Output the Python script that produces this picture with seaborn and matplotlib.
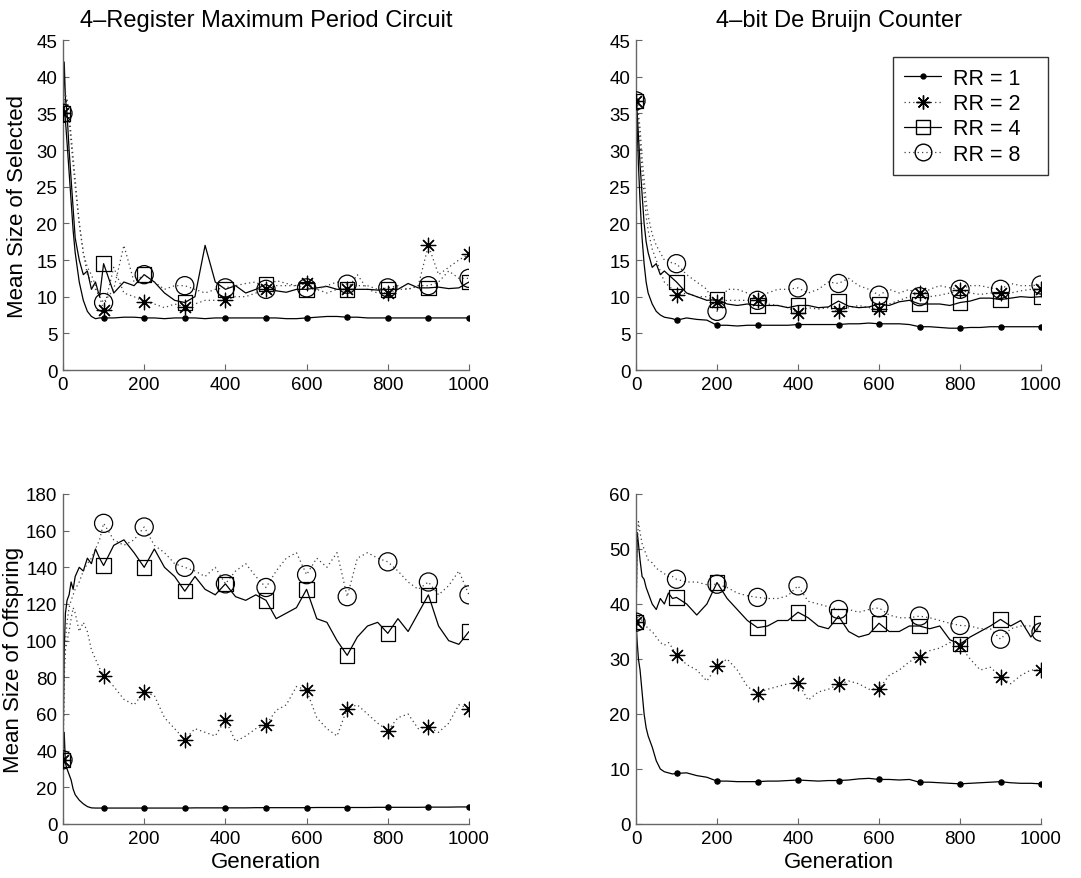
import pandas as pd
import matplotlib
matplotlib.use("Agg")
import matplotlib.pyplot as plt
import seaborn as sns
from matplotlib.lines import Line2D

# generation grid (finer at the start, every 25 after 100)
gens = [0, 3, 6, 10, 15, 20, 25, 30, 40, 50, 60, 70, 80, 90, 100,
        125, 150, 175, 200, 225, 250, 275, 300, 325, 350, 375, 400, 425, 450, 475,
        500, 525, 550, 575, 600, 625, 650, 675, 700, 725, 750, 775, 800, 825, 850,
        875, 900, 925, 950, 975, 1000]

rr_labels = ["RR = 1", "RR = 2", "RR = 4", "RR = 8"]

# --- 4-Register Maximum Period Circuit, mean size of selected ---
reg_sel_rr1 = [35, 36, 34, 31, 27, 23, 19, 16, 12, 9.5, 8, 7.3, 7.0, 7.1, 7.1,
               7.1, 7.2, 7.2, 7.1, 7.1, 7.0, 7.1, 7.1, 7.1, 7.0, 7.1, 7.1, 7.1, 7.1, 7.1,
               7.1, 7.1, 7.0, 7.0, 7.1, 7.2, 7.3, 7.3, 7.2, 7.2, 7.1, 7.1, 7.1, 7.1, 7.1,
               7.1, 7.1, 7.1, 7.1, 7.1, 7.1]
reg_sel_rr2 = [35, 37, 36, 37, 35, 32, 29, 26, 20, 16, 13, 12, 11, 10, 8.2,
               14, 10.5, 10, 9.3, 9, 8.5, 9, 8.6, 9, 9.5, 9.5, 9.5, 10, 10, 10.5,
               11, 11.5, 11.5, 11.5, 11.8, 11, 10.5, 11, 11, 13, 11, 10.5, 10.5, 11, 11,
               11.5, 17, 13, 14, 15, 15.8]
reg_sel_rr4 = [35, 42, 37, 35, 30, 26, 22, 18, 15, 13, 13.5, 11, 12, 10, 14.5,
               10.5, 12, 11.5, 13, 12, 10.5, 9.5, 9.2, 10, 17, 12, 11, 11.5, 10.5, 11,
               11.7, 10.8, 10.6, 11, 11, 11.2, 11.4, 11, 11, 11, 11, 10.9, 11, 11, 11.8,
               11.2, 11.2, 11.3, 11.1, 11.2, 12]
reg_sel_rr8 = [35, 36, 38, 36, 34, 31, 28, 25, 20, 16, 14, 13, 11.5, 10, 9.2,
               11, 17, 12, 13, 12, 11, 11.5, 11.5, 11, 10.5, 11, 11.2, 11.5, 11.8, 12,
               11, 12.2, 11.8, 11.5, 11.2, 11, 11.5, 12, 11.7, 11.5, 11.5, 11, 11.2, 11.5, 11,
               11.5, 11.5, 12, 13.5, 12.5, 12.5]

# --- 4-bit De Bruijn Counter, mean size of selected ---
dbc_sel_rr1 = [36.7, 33, 28, 23, 18, 14.5, 12, 10.5, 9, 8, 7.5, 7.2, 7.1, 7.0, 6.8,
               7.1, 6.9, 6.8, 6.1, 6.1, 6.0, 6.1, 6.1, 6.1, 6.1, 6.1, 6.2, 6.2, 6.2, 6.2,
               6.2, 6.3, 6.3, 6.4, 6.3, 6.3, 6.3, 6.2, 5.9, 5.9, 5.8, 5.7, 5.7, 5.8, 5.8,
               5.9, 5.9, 5.9, 5.9, 5.9, 5.9]
dbc_sel_rr2 = [36.7, 36, 34, 31, 27, 24, 21, 19, 16.5, 15, 13.5, 12, 11.5, 11, 10.2,
               10.5, 10, 10, 9.3, 9.5, 9.5, 9.5, 9.5, 9, 8.8, 8.5, 7.8, 8.5, 8.3, 8.5,
               8, 8.5, 8.8, 8.5, 8.3, 9, 9.5, 10, 10.5, 10, 10.2, 10.5, 10.9, 10.5, 10.3,
               10.5, 10.5, 10.5, 10.8, 11, 11]
dbc_sel_rr4 = [36.7, 35, 32, 28, 24, 20, 17.5, 16, 14, 14.5, 13, 13.5, 13, 12.5, 12,
               10.5, 10, 9.5, 9.6, 9, 8.8, 9, 8.8, 8.8, 8.8, 8.5, 8.8, 8.8, 8.5, 8.6,
               9.4, 8.7, 8.5, 8.6, 9.0, 8.8, 9.3, 9.5, 9.0, 9.0, 9.0, 8.8, 9.2, 9.4, 9.8,
               9.8, 9.6, 9.8, 10, 9.9, 10]
dbc_sel_rr8 = [36.7, 37, 35, 33, 29, 26, 23, 21, 18.5, 17, 16, 15, 15, 14.5, 14.5,
               13, 12, 11, 8, 11, 11, 10.5, 9.5, 10.5, 11, 11, 11.2, 10.5, 11, 12,
               11.8, 12.5, 11.5, 11, 10.2, 11, 10.5, 11, 10, 11, 11.5, 11.2, 11, 11.5, 11.5,
               11.2, 11, 11.8, 11.5, 11.5, 11.6]

# --- 4-Register Maximum Period Circuit, mean size of offspring ---
reg_off_rr1 = [35, 50, 33, 30, 27, 24, 19, 16, 13, 11, 9.5, 8.8, 8.7, 8.7, 8.7,
               8.7, 8.7, 8.7, 8.7, 8.7, 8.7, 8.7, 8.7, 8.8, 8.8, 8.8, 8.8, 8.8, 8.8, 8.9,
               8.9, 8.9, 8.9, 8.9, 8.9, 9.0, 9.0, 9.0, 9.0, 9.0, 9.0, 9.1, 9.1, 9.1, 9.1,
               9.1, 9.2, 9.2, 9.2, 9.3, 9.3]
reg_off_rr2 = [35, 80, 95, 100, 105, 112, 118, 115, 105, 110, 105, 95, 90, 85, 81,
               75, 68, 65, 72, 70, 58, 52, 46, 52, 50, 48, 57, 45, 48, 52,
               54, 62, 65, 75, 73, 58, 52, 48, 63, 65, 60, 55, 51, 58, 60,
               52, 53, 50, 55, 65, 63]
reg_off_rr4 = [35, 95, 115, 122, 125, 132, 128, 135, 140, 138, 145, 142, 150, 145, 141,
               152, 155, 148, 140, 150, 140, 135, 127, 135, 128, 125, 131, 124, 122, 125,
               122, 112, 115, 118, 128, 112, 110, 100, 92, 102, 108, 110, 104, 112, 105,
               115, 125, 108, 100, 98, 105]
reg_off_rr8 = [35, 85, 100, 110, 118, 122, 125, 128, 132, 138, 142, 145, 150, 155, 164,
               155, 152, 155, 162, 152, 148, 142, 140, 138, 135, 140, 131, 138, 142, 135,
               129, 138, 145, 148, 136, 145, 140, 148, 124, 145, 148, 145, 143, 138, 132,
               128, 132, 125, 130, 138, 125]

# --- 4-bit De Bruijn Counter, mean size of offspring ---
dbc_off_rr1 = [36.7, 33, 30, 28, 24, 20, 17.5, 16, 14, 11.5, 10, 9.5, 9.3, 9.1, 9.2,
               9.3, 8.8, 8.5, 7.8, 7.8, 7.7, 7.7, 7.7, 7.8, 7.8, 7.9, 8.0, 7.9, 7.8, 7.9,
               7.9, 8.0, 8.2, 8.3, 8.1, 8.1, 8.0, 8.1, 7.6, 7.6, 7.5, 7.4, 7.3, 7.4, 7.5,
               7.6, 7.7, 7.5, 7.4, 7.4, 7.3]
dbc_off_rr2 = [36.7, 37, 38, 37.5, 37, 36.5, 36, 35.5, 35, 34, 33, 32.5, 33, 32, 30.7,
               29, 28, 26, 28.7, 30, 28, 25, 23.7, 24.5, 25, 25.5, 25.7, 22.5, 24, 24.5,
               25.4, 26, 25.5, 24.5, 24.6, 27, 28, 29.5, 30.4, 31.5, 32, 33, 32.4, 30, 28,
               28.5, 26.8, 25.5, 27, 28, 28]
dbc_off_rr4 = [36.7, 53, 51, 48, 45, 44.5, 43, 42, 40, 39, 41, 40, 42, 41, 41.2,
               40, 38, 40, 43.9, 41, 39, 37, 35.7, 36, 37, 37, 38.5, 37.5, 36, 35.5,
               37.8, 35, 34, 34.5, 36.5, 35, 35, 36, 36, 35.5, 36, 33.5, 32.7, 34, 35,
               36, 37.2, 36, 37, 34, 36.5]
dbc_off_rr8 = [36.7, 50, 55, 53, 51, 50, 49, 48, 47.5, 46.5, 46, 45.5, 45, 45, 44.5,
               44, 44, 43.5, 43.6, 43, 42, 41.5, 41.2, 41, 41, 41.5, 43.3, 40.5, 40, 39.5,
               39, 39, 38.5, 39, 39.3, 38, 37.5, 37.5, 37.8, 37.5, 37, 36.5, 36.1, 36, 35.5,
               35.5, 33.6, 35.5, 36, 36, 34.9]

panels = [
    ("4\u2013Register Maximum Period Circuit", [reg_sel_rr1, reg_sel_rr2, reg_sel_rr4, reg_sel_rr8], 45, 5),
    ("4\u2013bit De Bruijn Counter", [dbc_sel_rr1, dbc_sel_rr2, dbc_sel_rr4, dbc_sel_rr8], 45, 5),
    ("", [reg_off_rr1, reg_off_rr2, reg_off_rr4, reg_off_rr8], 180, 20),
    ("", [dbc_off_rr1, dbc_off_rr2, dbc_off_rr4, dbc_off_rr8], 60, 10),
]

# line / marker style per RR value
dots = (0, (1, 2.5))
styles = [
    dict(ls="-", lw=0.9, color="black", marker="o", s=14, fc="black"),
    dict(ls=dots, lw=0.9, color="0.25", marker=(8, 2, 0), s=110, fc="black"),
    dict(ls="-", lw=0.9, color="black", marker="s", s=110, fc="none"),
    dict(ls=dots, lw=0.9, color="0.25", marker="o", s=170, fc="none"),
]

sns.set_theme(style="white")
plt.rcParams["font.family"] = ["Liberation Sans", "DejaVu Sans"]
plt.rcParams["text.color"] = "black"
plt.rcParams["axes.labelcolor"] = "black"

W, H = 1081, 879
fig = plt.figure(figsize=(W / 100, H / 100), dpi=100)
boxes = [(63, 41, 469, 371), (636, 41, 1041, 371), (63, 495, 469, 825), (636, 495, 1041, 825)]

axes = []
for (title, series, ymax, ystep), (x0, y0, x1, y1) in zip(panels, boxes):
    ax = fig.add_axes([x0 / W, 1 - y1 / H, (x1 - x0) / W, (y1 - y0) / H])
    axes.append(ax)
    for vals, lab, st in zip(series, rr_labels, styles):
        df = pd.DataFrame({"Generation": gens, "value": vals})
        sns.lineplot(data=df, x="Generation", y="value", ax=ax, color=st["color"],
                     linestyle=st["ls"], linewidth=st["lw"], estimator=None,
                     legend=False, zorder=2)
        marks = df[df["Generation"] % 100 == 0]
        if st["fc"] == "none":
            sns.scatterplot(data=marks, x="Generation", y="value", ax=ax,
                            marker=st["marker"], s=st["s"], facecolor="none",
                            edgecolor="black", color="black", linewidth=0.9,
                            legend=False, zorder=3)
        else:
            sns.scatterplot(data=marks, x="Generation", y="value", ax=ax,
                            marker=st["marker"], s=st["s"], color="black",
                            edgecolor="black", linewidth=0.9, legend=False, zorder=3)
    ax.set_xlim(0, 1000)
    ax.set_ylim(0, ymax)
    ax.set_xticks(range(0, 1001, 200))
    ax.set_yticks(range(0, ymax + 1, ystep))
    ax.set_xlabel("")
    ax.set_ylabel("")
    ax.set_title(title, fontsize=17, pad=10)
    for side in ["top", "right"]:
        ax.spines[side].set_visible(False)
    for side in ["left", "bottom"]:
        ax.spines[side].set_color("0.4")
        ax.spines[side].set_linewidth(1.0)
    ax.tick_params(direction="in", length=4, width=0.8, color="0.4",
                   labelcolor="black", labelsize=13.5, pad=4, left=True, bottom=True)

axes[0].set_ylabel("Mean Size of Selected", fontsize=16)
axes[2].set_ylabel("Mean Size of Offspring", fontsize=16)
axes[0].yaxis.set_label_coords(-0.085, 0.5)
axes[2].yaxis.set_label_coords(-0.097, 0.5)
axes[2].set_xlabel("Generation", fontsize=16, labelpad=3)
axes[3].set_xlabel("Generation", fontsize=16, labelpad=3)

handles = [
    Line2D([], [], color="black", ls="-", lw=0.9, marker="o", ms=3.5),
    Line2D([], [], color="0.25", ls=dots, lw=0.9, marker=(8, 2, 0), ms=10,
           mec="black"),
    Line2D([], [], color="black", ls="-", lw=0.9, marker="s", ms=10, mfc="none",
           mec="black"),
    Line2D([], [], color="0.25", ls=dots, lw=0.9, marker="o", ms=12, mfc="none",
           mec="black"),
]
# legend frame spans x 893..1048, y 58..173 (figure pixels)
leg = axes[1].legend(handles, rr_labels, loc="upper left", mode="expand",
                     bbox_to_anchor=(893 / W, 1 - 173 / H, 155 / W, 115 / H),
                     bbox_transform=fig.transFigure,
                     fontsize=15.5, frameon=True, fancybox=False, edgecolor="black",
                     handlelength=1.75, labelspacing=0.2, borderpad=0.5,
                     handletextpad=0.55, borderaxespad=0)
leg.get_frame().set_linewidth(1.0)

fig.savefig("out.png", dpi=100)
